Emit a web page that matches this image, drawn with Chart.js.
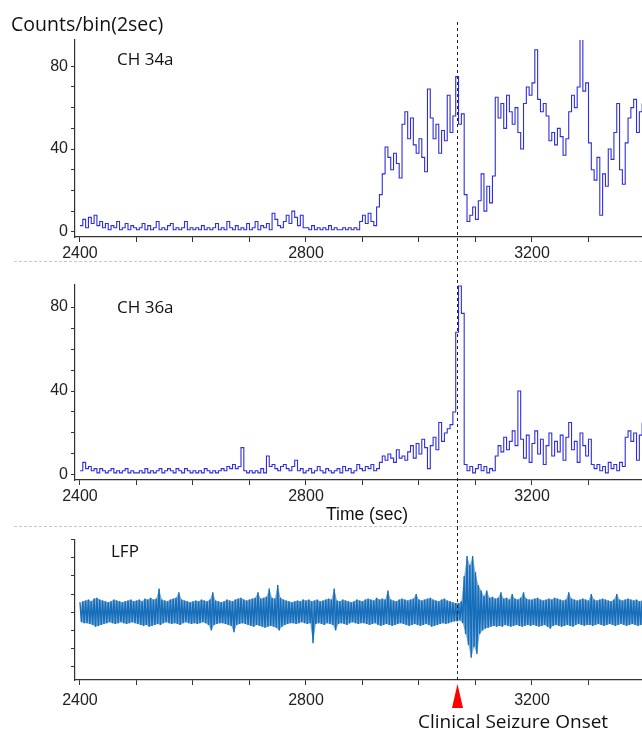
<!DOCTYPE html>
<html>
<head>
<meta charset="utf-8">
<script src="https://cdn.jsdelivr.net/npm/chart.js@4.4.0/dist/chart.umd.min.js"></script>
<style>
    body { margin: 0; background: #fff; overflow: hidden; }
    #wrap { position: relative; width: 642px; height: 733px; }
    canvas { position: absolute; left: 0; }
    .lbl { position: absolute; font-family: 'Open Sans', Lato, sans-serif; color: #111; white-space: nowrap; line-height: 1; }
    .sep { position: absolute; left: 14px; width: 628px; border-top: 1px dashed #c8c8c8; }
</style>
</head>
<body>
<div id="wrap">
    <canvas id="c1" width="642" height="262" style="top:0"></canvas>
    <canvas id="c2" width="642" height="265" style="top:262px"></canvas>
    <canvas id="c3" width="642" height="206" style="top:527px"></canvas>
    <div class="sep" style="top:261px"></div>
    <div class="sep" style="top:526px"></div>
    <div class="lbl" style="left:11px;top:14px;font-size:19.5px">Counts/bin(2sec)</div>
    <div class="lbl" style="left:117px;top:50px;font-size:17px">CH 34a</div>
    <div class="lbl" style="left:117px;top:298px;font-size:17px">CH 36a</div>
    <div class="lbl" style="left:111px;top:542px;font-size:17px">LFP</div>
    <div class="lbl" style="left:326px;top:506px;font-size:17.5px;font-family:'Liberation Sans',Arial,sans-serif">Time (sec)</div>
    <div class="lbl" style="left:418px;top:712px;font-size:19px">Clinical Seizure Onset</div>
</div>
<script>
// Time axis: one plotted step every 5 sec starting at 2400
const binStart = 2400;
const binWidth = 5;
const onsetTime = 3067;

const xTicks = [2400, 2500, 2600, 2700, 2800, 2900, 3000, 3100, 3200, 3300];
const countTicks = [0, 10, 20, 30, 40, 50, 60, 70, 80];
const lfpTicks = [-3, -2, -1, 0, 1, 2, 3, 4];

// CH 34a counts per bin
const ch34a = [
    3, 6, 2, 7, 4, 8, 3, 5,
    2, 4, 1, 3, 2, 5, 1, 2, 4, 1, 3, 2,
    1, 2, 4, 1, 3, 1, 2, 5, 1, 2, 1, 3, 4, 1, 2, 1, 2, 5, 1, 2,
    1, 2, 1, 3, 1, 2, 1, 2, 4, 1, 2, 1, 5, 2, 1, 3, 1, 2, 1, 4,
    1, 2, 5, 1, 3, 2, 4, 1, 9, 6, 3, 2, 5, 8, 4, 10, 7, 3, 8, 2,
    2, 1, 3, 1, 2, 1, 2, 1, 3, 1, 2, 1,
    1, 2, 1, 2, 1, 2, 1, 5,
    8, 4, 9, 5, 3, 12, 18,
    28, 41, 36, 30, 38, 33, 26,
    52, 58, 45, 55,
    42, 38, 45, 36, 29,
    69, 55,
    45, 52, 38, 49, 44,
    66, 48, 56,
    75, 52, 57,
    18,
    5, 8, 12, 6, 15, 28, 10, 22, 14, 27,
    65,
    55, 62, 50, 66, 58, 52, 60, 48, 40,
    62, 70, 66, 72, 88,
    64,
    58, 62, 56,
    44, 48, 42, 50, 46, 37, 45,
    58, 66, 60, 70, 93,
    68, 72,
    43,
    30, 25, 36, 8, 28, 22,
    40, 35, 48, 62, 30, 23,
    43, 55, 60, 64, 48, 58, 62
];

// CH 36a counts per bin
const ch36a = [
    2, 6, 3, 4, 2, 3, 1, 3, 2, 1, 2, 3, 1, 2, 1, 2, 3, 1, 2, 1,
    1, 2, 1, 3, 1, 2, 1, 2, 3, 1, 2, 3, 2, 1, 3, 2, 1, 3, 2, 1,
    2, 1, 2, 1, 3, 2, 1, 2, 1, 2, 3, 2, 4, 3, 5, 3, 4, 13, 2, 1,
    2, 1, 2, 1, 3, 1, 9, 4, 5, 3, 2, 4, 5, 3, 2, 4, 7, 2, 3, 1,
    2, 3, 1, 2, 4, 2, 1, 3, 2, 1, 2, 3, 1, 4, 2, 3, 1, 2, 5, 3,
    2, 4, 3, 5, 2, 3, 6, 9, 7, 10, 8, 6, 12, 8, 9, 7, 11, 14, 8, 15,
    10, 17, 13, 3, 14, 18, 12, 25, 16, 20,
    22, 24, 30, 68, 90, 77, 5,
    2, 4, 1, 3, 5, 2, 4, 1, 3, 2,
    9, 14, 11, 18, 12, 16, 21, 14, 40, 17,
    8, 19, 6, 15, 21, 10, 17, 5, 14, 20, 9, 16, 11, 19, 7, 18, 25, 12, 16, 6, 20, 14, 9, 17, 5,
    3, 5, 2, 4, 1, 6, 3, 5, 2, 6, 4,
    18, 21, 16, 20, 7, 19, 25
];

// LFP envelope (upper / lower excursion per step)
const lfpHigh = [
    .55, .6, .65, .7, .6, .75, .8, .7, .65, .6, .55, .6, .7, .65, .6, .55, .6, .65, .7, .6,
    .65, .7, .6, .75, .7, .8, .7, .75, 1.3, .7, .65, .6, .7, .75, .8, 1.1, .7, .65, .6, .55,
    .6, .65, .6, .7, .65, .6, .7, 1.1, .65, .6, .55, .6, .7, .65, .6, .7, .75, .8, .7, .65,
    .7, .75, .8, 1.1, .75, .8, .85, 1.3, .8, .75, 1.5, .8, .7, .65, .6, .55, .6, .65, .6, .7,
    .65, .7, .6, .65, .7, .6, .65, .7, .75, .7, 1.3, .65, .6, .7, .65, .6, .55, .6, .7, .65,
    .6, .7, .75, .7, .65, .8, .7, .75, .7, 1.2, .7, .65, .6, .7, .75, .7, .65, .7, .75, 1.0,
    .7, .65, .7, .75, .8, .7, .65, .6, .7, .75, .65, .6, .55, .5, .5, .6,
    2.0, 3.1, 2.6, 3.1, 2.2, 1.5, 1.2,
    .9, 1.2, .8, .85, .75, .8, 1.1, .75, .8, .7, 1.0, .75, .7, .8, 1.1, .75, .7,
    .7, .75, .8, .7, .65, .7, .75, .7, .8, .75, .7, .65, .7, 1.1, .75, .7, .65, .7, .75, .7,
    .65, 1.0, .7, .65, .7, .75, .7, .65, .6, .7, 1.0, .7, .65, .7, .75, .7, .65, .7, .6, .65
];
const lfpLow = [
    -.55, -.6, -.6, -.65, -.7, -.8, -.75, -.7, -.65, -.6, -.55, -.6, -.65, -.6, -.55, -.6, -.65, -.6, -.55, -.6,
    -.65, -.7, -.75, -.7, -.8, -.75, -.7, -.65, -.7, -.6, -.55, -.6, -.65, -.6, -.65, -.7, -.6, -.55, -.6, -.65,
    -.6, -.65, -.6, -.55, -.6, -.7, -1.0, -.7, -.65, -.6, -.6, -.65, -.7, -.75, -1.1, -.7, -.65, -.6, -.65, -.7,
    -.75, -.8, -.7, -.75, -.8, -.85, -.8, -.75, -.8, -.85, -1.0, -.8, -.7, -.65, -.6, -.6, -.65, -.6, -.55, -.6,
    -.65, -.6, -1.7, -.65, -.6, -.65, -.7, -.6, -.65, -.7, -1.0, -.65, -.6, -.65, -.7, -.6, -.55, -.6, -.65, -.6,
    -.6, -.65, -.7, -.65, -.6, -.7, -.75, -.7, -.65, -.7, -.75, -.7, -.65, -.6, -.65, -.7, -.75, -.7, -.65, -.7,
    -.75, -.7, -.65, -.7, -.8, -.75, -.7, -.65, -.6, -.65, -.6, -.55, -.5, -.5, -.45, -.6,
    -1.2, -1.8, -2.5, -1.9, -2.3, -1.2, -1.0,
    -.9, -.85, -.8, -.75, -.8, -.75, -.8, -.7, -.75, -.8, -.75, -.7, -.75, -.8, -.75, -.7, -.75,
    -.7, -.75, -.8, -.75, -.7, -.8, -.9, -.75, -.7, -.75, -.8, -.75, -.7, -.75, -.8, -.7, -.65, -.7, -.75, -.7,
    -.7, -.75, -.7, -.65, -.7, -.75, -.7, -.65, -.7, -.75, -.7, -.65, -.7, -.75, -.7, -.65, -.7, -.75, -.7, -.65
];

const histColor = 'rgb(45,45,225)';
const lfpColor = 'rgb(22,110,186)';
const lfpShade = 'rgba(22,110,186,0.55)';
const axisColor = '#333';
const tickFont = { family: "'Liberation Sans', Arial, sans-serif", size: 16 };

// x range chosen so 2400 sits just right of the y axis and the plot runs off the right edge
const xMin = 2391.2;
const xMax = 3394.7;

function histPoints(arr) {
    return arr.map((v, i) => ({ x: binStart + i * binWidth, y: v }));
}

// trace swings from the upper excursion to the lower one within each step
function lfpZigzag() {
    const pts = [];
    for (let i = 0; i < lfpHigh.length; i++) {
        const t = binStart + i * binWidth;
        pts.push({ x: t, y: lfpHigh[i] });
        pts.push({ x: t + binWidth / 2, y: lfpLow[i] });
    }
    return pts;
}

function envPoints(arr, shift) {
    return arr.map((v, i) => ({ x: binStart + i * binWidth + shift, y: v }));
}

// dashed onset line (and red marker on the bottom panel)
const onsetPlugin = {
    id: 'onset',
    afterDatasetsDraw(chart, args, opts) {
        const ctx = chart.ctx;
        const x = Math.round(chart.scales.x.getPixelForValue(onsetTime)) + 0.5;
        ctx.save();
        ctx.strokeStyle = '#222';
        ctx.lineWidth = 1;
        ctx.setLineDash([3, 3]);
        ctx.beginPath();
        ctx.moveTo(x, opts.top);
        ctx.lineTo(x, opts.bottom);
        ctx.stroke();
        if (opts.marker) {
            ctx.setLineDash([]);
            ctx.fillStyle = '#ff0000';
            ctx.beginPath();
            ctx.moveTo(x, opts.bottom + 3);
            ctx.lineTo(x - 5.5, opts.bottom + 27);
            ctx.lineTo(x + 5.5, opts.bottom + 27);
            ctx.closePath();
            ctx.fill();
        }
        ctx.restore();
    }
};

function xScale(height, pad) {
    return {
        type: 'linear',
        min: xMin,
        max: xMax,
        afterBuildTicks: s => { s.ticks = xTicks.map(v => ({ value: v })); },
        afterFit: s => { s.height = height; },
        ticks: {
            autoSkip: false, maxRotation: 0, padding: pad, color: '#222', font: tickFont,
            callback: v => (v % 400 === 0 ? String(v) : '')
        },
        grid: { drawOnChartArea: false, tickLength: 5, tickColor: axisColor, tickWidth: 1 },
        border: { color: axisColor, width: 1.2 }
    };
}

function yScale(min, max, ticks, showLabels) {
    return {
        min: min,
        max: max,
        afterBuildTicks: s => { s.ticks = ticks.map(v => ({ value: v })); },
        afterFit: s => { s.width = 75; },
        ticks: {
            autoSkip: false, padding: 3, color: '#222', font: tickFont,
            callback: v => (showLabels && v % 40 === 0 ? String(v) : '')
        },
        grid: { drawOnChartArea: false, tickLength: 4, tickColor: axisColor, tickWidth: 1 },
        border: { color: axisColor, width: 1.2 }
    };
}

function makeChart(id, datasets, scales, pad, onsetOpts) {
    return new Chart(document.getElementById(id), {
        type: 'line',
        data: { datasets: datasets },
        options: {
            responsive: false,
            animation: false,
            parsing: false,
            normalized: true,
            layout: { autoPadding: false, padding: { top: pad, left: 0, right: 0, bottom: 0 } },
            elements: { point: { radius: 0 } },
            scales: scales,
            plugins: {
                legend: { display: false },
                tooltip: { enabled: false },
                filler: { propagate: false },
                onset: onsetOpts
            }
        },
        plugins: [onsetPlugin]
    });
}

makeChart('c1',
    [{ data: histPoints(ch34a), borderColor: histColor, borderWidth: 1.1, stepped: true }],
    { x: xScale(25, 2), y: yScale(-2.5, 92.7, countTicks, true) },
    40, { top: 22, bottom: 262 });

makeChart('c2',
    [{ data: histPoints(ch36a), borderColor: histColor, borderWidth: 1.1, stepped: true }],
    { x: xScale(47, 2), y: yScale(-2.4, 90.5, countTicks, true) },
    23, { top: 0, bottom: 265 });

makeChart('c3',
    [
        { data: lfpZigzag(), borderColor: lfpColor, borderWidth: 1.4 },
        { data: envPoints(lfpHigh, 0), borderWidth: 0, backgroundColor: lfpShade, fill: '+1' },
        { data: envPoints(lfpLow, binWidth / 2), borderWidth: 0 }
    ],
    { x: xScale(53, 6), y: yScale(-3.73, 4.0, lfpTicks, false) },
    10, { top: 0, bottom: 154, marker: true });
</script>
</body>
</html>
